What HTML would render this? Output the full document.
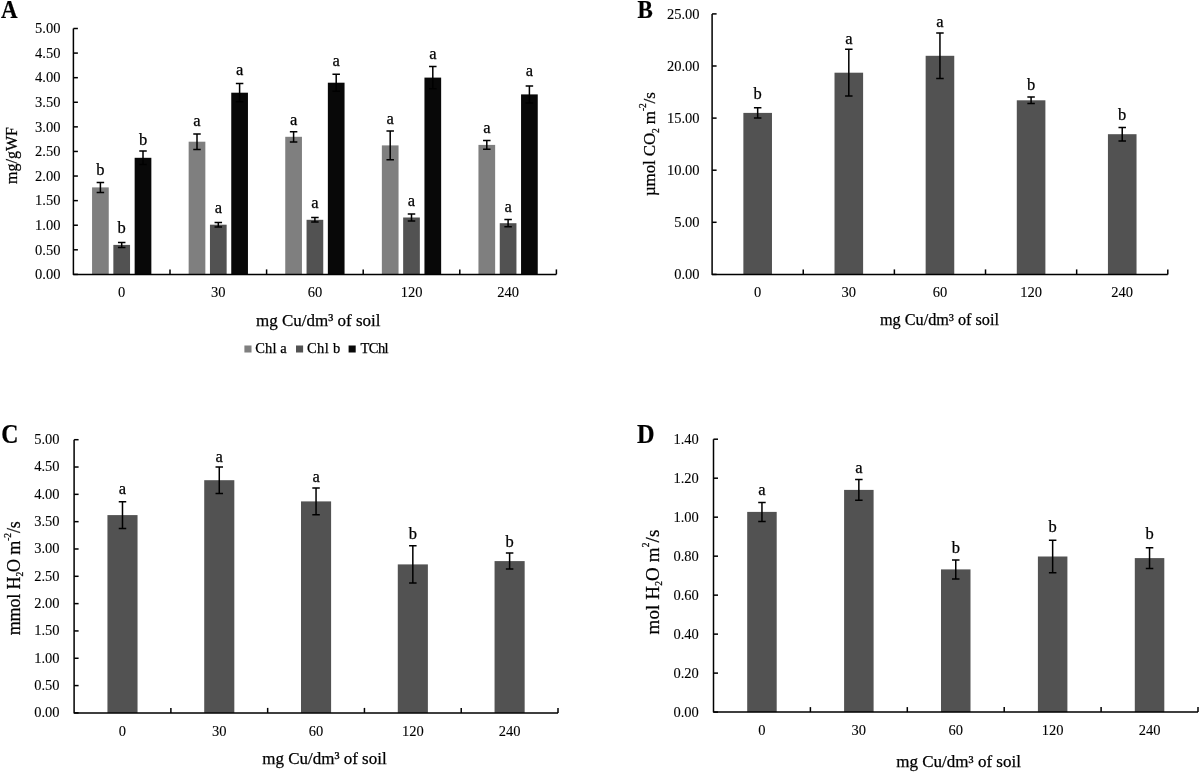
<!DOCTYPE html><html><head><meta charset="utf-8"><style>html,body{margin:0;padding:0;background:#fff;width:1200px;height:772px;overflow:hidden}svg{display:block;will-change:transform}text{font-family:"Liberation Serif",serif;fill:#000;stroke:#000;stroke-width:0.25px}.tk{stroke-width:0.1px}</style></head><body>
<svg width="1200" height="772" viewBox="0 0 1200 772">
<rect x="92.05" y="187.40" width="16.70" height="87.00" fill="#7f7f7f"/>
<rect x="188.65" y="141.70" width="16.70" height="132.70" fill="#7f7f7f"/>
<rect x="285.25" y="136.80" width="16.70" height="137.60" fill="#7f7f7f"/>
<rect x="381.85" y="145.40" width="16.70" height="129.00" fill="#7f7f7f"/>
<rect x="478.45" y="144.90" width="16.70" height="129.50" fill="#7f7f7f"/>
<rect x="113.35" y="244.90" width="16.70" height="29.50" fill="#525252"/>
<rect x="209.95" y="224.70" width="16.70" height="49.70" fill="#525252"/>
<rect x="306.55" y="219.80" width="16.70" height="54.60" fill="#525252"/>
<rect x="403.15" y="217.50" width="16.70" height="56.90" fill="#525252"/>
<rect x="499.75" y="223.20" width="16.70" height="51.20" fill="#525252"/>
<rect x="134.65" y="157.80" width="16.70" height="116.60" fill="#080808"/>
<rect x="231.25" y="92.70" width="16.70" height="181.70" fill="#080808"/>
<rect x="327.85" y="82.70" width="16.70" height="191.70" fill="#080808"/>
<rect x="424.45" y="77.60" width="16.70" height="196.80" fill="#080808"/>
<rect x="521.05" y="94.40" width="16.70" height="180.00" fill="#080808"/>
<path d="M100.40 182.40V192.40M96.65 182.40H104.15M96.65 192.40H104.15" stroke="#000" stroke-width="1.5" fill="none"/>
<text x="100.40" y="175.10" font-size="16.5" text-anchor="middle">b</text>
<path d="M197.00 133.90V149.50M193.25 133.90H200.75M193.25 149.50H200.75" stroke="#000" stroke-width="1.5" fill="none"/>
<text x="197.00" y="125.50" font-size="16.5" text-anchor="middle">a</text>
<path d="M293.60 131.70V141.90M289.85 131.70H297.35M289.85 141.90H297.35" stroke="#000" stroke-width="1.5" fill="none"/>
<text x="293.60" y="124.70" font-size="16.5" text-anchor="middle">a</text>
<path d="M390.20 131.00V159.80M386.45 131.00H393.95M386.45 159.80H393.95" stroke="#000" stroke-width="1.5" fill="none"/>
<text x="390.20" y="124.20" font-size="16.5" text-anchor="middle">a</text>
<path d="M486.80 140.50V149.30M483.05 140.50H490.55M483.05 149.30H490.55" stroke="#000" stroke-width="1.5" fill="none"/>
<text x="486.80" y="133.30" font-size="16.5" text-anchor="middle">a</text>
<path d="M121.70 242.40V247.40M117.95 242.40H125.45M117.95 247.40H125.45" stroke="#000" stroke-width="1.5" fill="none"/>
<text x="121.70" y="233.10" font-size="16.5" text-anchor="middle">b</text>
<path d="M218.30 222.50V226.90M214.55 222.50H222.05M214.55 226.90H222.05" stroke="#000" stroke-width="1.5" fill="none"/>
<text x="218.30" y="213.00" font-size="16.5" text-anchor="middle">a</text>
<path d="M314.90 217.60V222.00M311.15 217.60H318.65M311.15 222.00H318.65" stroke="#000" stroke-width="1.5" fill="none"/>
<text x="314.90" y="207.90" font-size="16.5" text-anchor="middle">a</text>
<path d="M411.50 214.00V221.00M407.75 214.00H415.25M407.75 221.00H415.25" stroke="#000" stroke-width="1.5" fill="none"/>
<text x="411.50" y="206.30" font-size="16.5" text-anchor="middle">a</text>
<path d="M508.10 219.60V226.80M504.35 219.60H511.85M504.35 226.80H511.85" stroke="#000" stroke-width="1.5" fill="none"/>
<text x="508.10" y="211.50" font-size="16.5" text-anchor="middle">a</text>
<path d="M143.00 151.00V164.60M139.25 151.00H146.75M139.25 164.60H146.75" stroke="#000" stroke-width="1.5" fill="none"/>
<text x="143.00" y="145.40" font-size="16.5" text-anchor="middle">b</text>
<path d="M239.60 83.60V101.80M235.85 83.60H243.35M235.85 101.80H243.35" stroke="#000" stroke-width="1.5" fill="none"/>
<text x="239.60" y="74.50" font-size="16.5" text-anchor="middle">a</text>
<path d="M336.20 74.20V91.20M332.45 74.20H339.95M332.45 91.20H339.95" stroke="#000" stroke-width="1.5" fill="none"/>
<text x="336.20" y="66.40" font-size="16.5" text-anchor="middle">a</text>
<path d="M432.80 66.40V88.80M429.05 66.40H436.55M429.05 88.80H436.55" stroke="#000" stroke-width="1.5" fill="none"/>
<text x="432.80" y="59.40" font-size="16.5" text-anchor="middle">a</text>
<path d="M529.40 85.90V102.90M525.65 85.90H533.15M525.65 102.90H533.15" stroke="#000" stroke-width="1.5" fill="none"/>
<text x="529.40" y="76.30" font-size="16.5" text-anchor="middle">a</text>
<path d="M73.40 28.50V274.40H556.40" stroke="#000" stroke-width="1.5" fill="none" stroke-linejoin="round"/>
<path d="M73.40 274.40H77.90" stroke="#000" stroke-width="1.5"/>
<text x="60.40" y="279.20" font-size="14.5" text-anchor="end" class="tk">0.00</text>
<path d="M73.40 249.81H77.90" stroke="#000" stroke-width="1.5"/>
<text x="60.40" y="254.61" font-size="14.5" text-anchor="end" class="tk">0.50</text>
<path d="M73.40 225.22H77.90" stroke="#000" stroke-width="1.5"/>
<text x="60.40" y="230.02" font-size="14.5" text-anchor="end" class="tk">1.00</text>
<path d="M73.40 200.63H77.90" stroke="#000" stroke-width="1.5"/>
<text x="60.40" y="205.43" font-size="14.5" text-anchor="end" class="tk">1.50</text>
<path d="M73.40 176.04H77.90" stroke="#000" stroke-width="1.5"/>
<text x="60.40" y="180.84" font-size="14.5" text-anchor="end" class="tk">2.00</text>
<path d="M73.40 151.45H77.90" stroke="#000" stroke-width="1.5"/>
<text x="60.40" y="156.25" font-size="14.5" text-anchor="end" class="tk">2.50</text>
<path d="M73.40 126.86H77.90" stroke="#000" stroke-width="1.5"/>
<text x="60.40" y="131.66" font-size="14.5" text-anchor="end" class="tk">3.00</text>
<path d="M73.40 102.27H77.90" stroke="#000" stroke-width="1.5"/>
<text x="60.40" y="107.07" font-size="14.5" text-anchor="end" class="tk">3.50</text>
<path d="M73.40 77.68H77.90" stroke="#000" stroke-width="1.5"/>
<text x="60.40" y="82.48" font-size="14.5" text-anchor="end" class="tk">4.00</text>
<path d="M73.40 53.09H77.90" stroke="#000" stroke-width="1.5"/>
<text x="60.40" y="57.89" font-size="14.5" text-anchor="end" class="tk">4.50</text>
<path d="M73.40 28.50H77.90" stroke="#000" stroke-width="1.5"/>
<text x="60.40" y="33.30" font-size="14.5" text-anchor="end" class="tk">5.00</text>
<path d="M170.00 274.40V269.40" stroke="#000" stroke-width="1.5"/>
<path d="M266.60 274.40V269.40" stroke="#000" stroke-width="1.5"/>
<path d="M363.20 274.40V269.40" stroke="#000" stroke-width="1.5"/>
<path d="M459.80 274.40V269.40" stroke="#000" stroke-width="1.5"/>
<path d="M556.40 274.40V269.40" stroke="#000" stroke-width="1.5"/>
<text x="121.70" y="297.20" font-size="14.5" text-anchor="middle" class="tk">0</text>
<text x="218.30" y="297.20" font-size="14.5" text-anchor="middle" class="tk">30</text>
<text x="314.90" y="297.20" font-size="14.5" text-anchor="middle" class="tk">60</text>
<text x="411.50" y="297.20" font-size="14.5" text-anchor="middle" class="tk">120</text>
<text x="508.10" y="297.20" font-size="14.5" text-anchor="middle" class="tk">240</text>
<rect x="743.37" y="112.90" width="28.60" height="161.50" fill="#525252"/>
<rect x="834.51" y="72.70" width="28.60" height="201.70" fill="#525252"/>
<rect x="925.65" y="55.80" width="28.60" height="218.60" fill="#525252"/>
<rect x="1016.79" y="100.30" width="28.60" height="174.10" fill="#525252"/>
<rect x="1107.93" y="134.20" width="28.60" height="140.20" fill="#525252"/>
<path d="M757.67 107.80V118.00M753.92 107.80H761.42M753.92 118.00H761.42" stroke="#000" stroke-width="1.5" fill="none"/>
<text x="757.67" y="99.00" font-size="16.5" text-anchor="middle">b</text>
<path d="M848.81 49.30V96.10M845.06 49.30H852.56M845.06 96.10H852.56" stroke="#000" stroke-width="1.5" fill="none"/>
<text x="848.81" y="44.20" font-size="16.5" text-anchor="middle">a</text>
<path d="M939.95 33.00V78.60M936.20 33.00H943.70M936.20 78.60H943.70" stroke="#000" stroke-width="1.5" fill="none"/>
<text x="939.95" y="26.50" font-size="16.5" text-anchor="middle">a</text>
<path d="M1031.09 97.10V103.50M1027.34 97.10H1034.84M1027.34 103.50H1034.84" stroke="#000" stroke-width="1.5" fill="none"/>
<text x="1031.09" y="90.00" font-size="16.5" text-anchor="middle">b</text>
<path d="M1122.23 127.50V140.90M1118.48 127.50H1125.98M1118.48 140.90H1125.98" stroke="#000" stroke-width="1.5" fill="none"/>
<text x="1122.23" y="120.30" font-size="16.5" text-anchor="middle">b</text>
<path d="M712.10 13.90V274.40H1167.80" stroke="#000" stroke-width="1.5" fill="none" stroke-linejoin="round"/>
<path d="M712.10 274.40H716.60" stroke="#000" stroke-width="1.5"/>
<text x="699.60" y="279.00" font-size="14.5" text-anchor="end" class="tk">0.00</text>
<path d="M712.10 222.30H716.60" stroke="#000" stroke-width="1.5"/>
<text x="699.60" y="226.90" font-size="14.5" text-anchor="end" class="tk">5.00</text>
<path d="M712.10 170.20H716.60" stroke="#000" stroke-width="1.5"/>
<text x="699.60" y="174.80" font-size="14.5" text-anchor="end" class="tk">10.00</text>
<path d="M712.10 118.10H716.60" stroke="#000" stroke-width="1.5"/>
<text x="699.60" y="122.70" font-size="14.5" text-anchor="end" class="tk">15.00</text>
<path d="M712.10 66.00H716.60" stroke="#000" stroke-width="1.5"/>
<text x="699.60" y="70.60" font-size="14.5" text-anchor="end" class="tk">20.00</text>
<path d="M712.10 13.90H716.60" stroke="#000" stroke-width="1.5"/>
<text x="699.60" y="18.50" font-size="14.5" text-anchor="end" class="tk">25.00</text>
<path d="M803.24 274.40V269.40" stroke="#000" stroke-width="1.5"/>
<path d="M894.38 274.40V269.40" stroke="#000" stroke-width="1.5"/>
<path d="M985.52 274.40V269.40" stroke="#000" stroke-width="1.5"/>
<path d="M1076.66 274.40V269.40" stroke="#000" stroke-width="1.5"/>
<path d="M1167.80 274.40V269.40" stroke="#000" stroke-width="1.5"/>
<text x="757.67" y="297.00" font-size="14.5" text-anchor="middle" class="tk">0</text>
<text x="848.81" y="297.00" font-size="14.5" text-anchor="middle" class="tk">30</text>
<text x="939.95" y="297.00" font-size="14.5" text-anchor="middle" class="tk">60</text>
<text x="1031.09" y="297.00" font-size="14.5" text-anchor="middle" class="tk">120</text>
<text x="1122.23" y="297.00" font-size="14.5" text-anchor="middle" class="tk">240</text>
<rect x="107.44" y="515.10" width="30.10" height="197.80" fill="#525252"/>
<rect x="204.22" y="480.20" width="30.10" height="232.70" fill="#525252"/>
<rect x="301.00" y="501.40" width="30.10" height="211.50" fill="#525252"/>
<rect x="397.78" y="564.40" width="30.10" height="148.50" fill="#525252"/>
<rect x="494.56" y="561.10" width="30.10" height="151.80" fill="#525252"/>
<path d="M122.49 501.70V528.50M118.74 501.70H126.24M118.74 528.50H126.24" stroke="#000" stroke-width="1.5" fill="none"/>
<text x="122.49" y="493.80" font-size="16.5" text-anchor="middle">a</text>
<path d="M219.27 467.00V493.40M215.52 467.00H223.02M215.52 493.40H223.02" stroke="#000" stroke-width="1.5" fill="none"/>
<text x="219.27" y="462.00" font-size="16.5" text-anchor="middle">a</text>
<path d="M316.05 488.00V514.80M312.30 488.00H319.80M312.30 514.80H319.80" stroke="#000" stroke-width="1.5" fill="none"/>
<text x="316.05" y="482.00" font-size="16.5" text-anchor="middle">a</text>
<path d="M412.83 545.80V583.00M409.08 545.80H416.58M409.08 583.00H416.58" stroke="#000" stroke-width="1.5" fill="none"/>
<text x="412.83" y="539.20" font-size="16.5" text-anchor="middle">b</text>
<path d="M509.61 553.10V569.10M505.86 553.10H513.36M505.86 569.10H513.36" stroke="#000" stroke-width="1.5" fill="none"/>
<text x="509.61" y="546.90" font-size="16.5" text-anchor="middle">b</text>
<path d="M74.10 439.70V712.90H558.00" stroke="#000" stroke-width="1.5" fill="none" stroke-linejoin="round"/>
<path d="M74.10 712.90H78.60" stroke="#000" stroke-width="1.5"/>
<text x="59.60" y="717.30" font-size="14.5" text-anchor="end" class="tk">0.00</text>
<path d="M74.10 685.58H78.60" stroke="#000" stroke-width="1.5"/>
<text x="59.60" y="689.98" font-size="14.5" text-anchor="end" class="tk">0.50</text>
<path d="M74.10 658.26H78.60" stroke="#000" stroke-width="1.5"/>
<text x="59.60" y="662.66" font-size="14.5" text-anchor="end" class="tk">1.00</text>
<path d="M74.10 630.94H78.60" stroke="#000" stroke-width="1.5"/>
<text x="59.60" y="635.34" font-size="14.5" text-anchor="end" class="tk">1.50</text>
<path d="M74.10 603.62H78.60" stroke="#000" stroke-width="1.5"/>
<text x="59.60" y="608.02" font-size="14.5" text-anchor="end" class="tk">2.00</text>
<path d="M74.10 576.30H78.60" stroke="#000" stroke-width="1.5"/>
<text x="59.60" y="580.70" font-size="14.5" text-anchor="end" class="tk">2.50</text>
<path d="M74.10 548.98H78.60" stroke="#000" stroke-width="1.5"/>
<text x="59.60" y="553.38" font-size="14.5" text-anchor="end" class="tk">3.00</text>
<path d="M74.10 521.66H78.60" stroke="#000" stroke-width="1.5"/>
<text x="59.60" y="526.06" font-size="14.5" text-anchor="end" class="tk">3.50</text>
<path d="M74.10 494.34H78.60" stroke="#000" stroke-width="1.5"/>
<text x="59.60" y="498.74" font-size="14.5" text-anchor="end" class="tk">4.00</text>
<path d="M74.10 467.02H78.60" stroke="#000" stroke-width="1.5"/>
<text x="59.60" y="471.42" font-size="14.5" text-anchor="end" class="tk">4.50</text>
<path d="M74.10 439.70H78.60" stroke="#000" stroke-width="1.5"/>
<text x="59.60" y="444.10" font-size="14.5" text-anchor="end" class="tk">5.00</text>
<path d="M170.88 712.90V707.90" stroke="#000" stroke-width="1.5"/>
<path d="M267.66 712.90V707.90" stroke="#000" stroke-width="1.5"/>
<path d="M364.44 712.90V707.90" stroke="#000" stroke-width="1.5"/>
<path d="M461.22 712.90V707.90" stroke="#000" stroke-width="1.5"/>
<path d="M558.00 712.90V707.90" stroke="#000" stroke-width="1.5"/>
<text x="122.49" y="735.80" font-size="14.5" text-anchor="middle" class="tk">0</text>
<text x="219.27" y="735.80" font-size="14.5" text-anchor="middle" class="tk">30</text>
<text x="316.05" y="735.80" font-size="14.5" text-anchor="middle" class="tk">60</text>
<text x="412.83" y="735.80" font-size="14.5" text-anchor="middle" class="tk">120</text>
<text x="509.61" y="735.80" font-size="14.5" text-anchor="middle" class="tk">240</text>
<rect x="747.20" y="511.90" width="29.50" height="200.20" fill="#525252"/>
<rect x="844.10" y="489.90" width="29.50" height="222.20" fill="#525252"/>
<rect x="941.00" y="569.40" width="29.50" height="142.70" fill="#525252"/>
<rect x="1037.90" y="556.50" width="29.50" height="155.60" fill="#525252"/>
<rect x="1134.80" y="558.10" width="29.50" height="154.00" fill="#525252"/>
<path d="M761.95 502.40V521.40M758.20 502.40H765.70M758.20 521.40H765.70" stroke="#000" stroke-width="1.5" fill="none"/>
<text x="761.95" y="495.20" font-size="16.5" text-anchor="middle">a</text>
<path d="M858.85 479.50V500.30M855.10 479.50H862.60M855.10 500.30H862.60" stroke="#000" stroke-width="1.5" fill="none"/>
<text x="858.85" y="472.50" font-size="16.5" text-anchor="middle">a</text>
<path d="M955.75 559.90V578.90M952.00 559.90H959.50M952.00 578.90H959.50" stroke="#000" stroke-width="1.5" fill="none"/>
<text x="955.75" y="553.30" font-size="16.5" text-anchor="middle">b</text>
<path d="M1052.65 540.30V572.70M1048.90 540.30H1056.40M1048.90 572.70H1056.40" stroke="#000" stroke-width="1.5" fill="none"/>
<text x="1052.65" y="532.10" font-size="16.5" text-anchor="middle">b</text>
<path d="M1149.55 547.80V568.40M1145.80 547.80H1153.30M1145.80 568.40H1153.30" stroke="#000" stroke-width="1.5" fill="none"/>
<text x="1149.55" y="538.75" font-size="16.5" text-anchor="middle">b</text>
<path d="M713.50 439.20V712.10H1198.00" stroke="#000" stroke-width="1.5" fill="none" stroke-linejoin="round"/>
<path d="M713.50 712.10H718.00" stroke="#000" stroke-width="1.5"/>
<text x="698.80" y="716.90" font-size="14.5" text-anchor="end" class="tk">0.00</text>
<path d="M713.50 673.11H718.00" stroke="#000" stroke-width="1.5"/>
<text x="698.80" y="677.91" font-size="14.5" text-anchor="end" class="tk">0.20</text>
<path d="M713.50 634.13H718.00" stroke="#000" stroke-width="1.5"/>
<text x="698.80" y="638.93" font-size="14.5" text-anchor="end" class="tk">0.40</text>
<path d="M713.50 595.14H718.00" stroke="#000" stroke-width="1.5"/>
<text x="698.80" y="599.94" font-size="14.5" text-anchor="end" class="tk">0.60</text>
<path d="M713.50 556.16H718.00" stroke="#000" stroke-width="1.5"/>
<text x="698.80" y="560.96" font-size="14.5" text-anchor="end" class="tk">0.80</text>
<path d="M713.50 517.17H718.00" stroke="#000" stroke-width="1.5"/>
<text x="698.80" y="521.97" font-size="14.5" text-anchor="end" class="tk">1.00</text>
<path d="M713.50 478.19H718.00" stroke="#000" stroke-width="1.5"/>
<text x="698.80" y="482.99" font-size="14.5" text-anchor="end" class="tk">1.20</text>
<path d="M713.50 439.20H718.00" stroke="#000" stroke-width="1.5"/>
<text x="698.80" y="444.00" font-size="14.5" text-anchor="end" class="tk">1.40</text>
<path d="M810.40 712.10V707.10" stroke="#000" stroke-width="1.5"/>
<path d="M907.30 712.10V707.10" stroke="#000" stroke-width="1.5"/>
<path d="M1004.20 712.10V707.10" stroke="#000" stroke-width="1.5"/>
<path d="M1101.10 712.10V707.10" stroke="#000" stroke-width="1.5"/>
<path d="M1198.00 712.10V707.10" stroke="#000" stroke-width="1.5"/>
<text x="761.95" y="735.20" font-size="14.5" text-anchor="middle" class="tk">0</text>
<text x="858.85" y="735.20" font-size="14.5" text-anchor="middle" class="tk">30</text>
<text x="955.75" y="735.20" font-size="14.5" text-anchor="middle" class="tk">60</text>
<text x="1052.65" y="735.20" font-size="14.5" text-anchor="middle" class="tk">120</text>
<text x="1149.55" y="735.20" font-size="14.5" text-anchor="middle" class="tk">240</text>
<text transform="translate(1.00,17.80) scale(0.9,1)" font-size="25.5" font-weight="bold">A</text>
<text transform="translate(637.60,17.80) scale(0.9,1)" font-size="25.5" font-weight="bold">B</text>
<text transform="translate(1.20,442.60) scale(0.88,1)" font-size="27" font-weight="bold">C</text>
<text transform="translate(637.00,442.70) scale(0.9,1)" font-size="27" font-weight="bold">D</text>
<text x="256.00" y="326.00" font-size="17" textLength="124.50" lengthAdjust="spacingAndGlyphs">mg Cu/dm³ of soil</text>
<text x="880.00" y="324.70" font-size="16.2" textLength="118.90" lengthAdjust="spacingAndGlyphs">mg Cu/dm³ of soil</text>
<text x="262.30" y="763.80" font-size="17" textLength="124.30" lengthAdjust="spacingAndGlyphs">mg Cu/dm³ of soil</text>
<text x="896.30" y="766.50" font-size="16.5" textLength="124.60" lengthAdjust="spacingAndGlyphs">mg Cu/dm³ of soil</text>
<text transform="translate(17.10,155.45) rotate(-90)" text-anchor="middle" font-size="16">mg/gWF</text>
<text transform="translate(655.00,144.15) rotate(-90)" text-anchor="middle" font-size="17" textLength="103.9" lengthAdjust="spacing">µmol CO<tspan font-size="9.5" dy="3.6">2</tspan><tspan dy="-3.6"> m</tspan><tspan font-size="9.5" dy="-9.0">-2</tspan><tspan dy="9.0">/s</tspan></text>
<text transform="translate(19.50,578.25) rotate(-90)" text-anchor="middle" font-size="18" textLength="114.1" lengthAdjust="spacing">mmol H<tspan font-size="9.5" dy="3.6">2</tspan><tspan dy="-3.6">O m</tspan><tspan font-size="9.5" dy="-8.8">-2</tspan><tspan dy="8.8">/s</tspan></text>
<text transform="translate(658.80,582.05) rotate(-90)" text-anchor="middle" font-size="19" textLength="104.9" lengthAdjust="spacing">mol H<tspan font-size="9.5" dy="3.6">2</tspan><tspan dy="-3.6">O m</tspan><tspan font-size="9.5" dy="-10.0">2</tspan><tspan dy="10.0">/s</tspan></text>
<rect x="244.40" y="345.5" width="7.1" height="7" fill="#7f7f7f"/>
<text x="255.20" y="353.40" font-size="14.5" textLength="31.6" lengthAdjust="spacing">Chl a</text>
<rect x="296.00" y="345.5" width="7.1" height="7" fill="#525252"/>
<text x="307.00" y="353.40" font-size="14.5" textLength="33.3" lengthAdjust="spacing">Chl b</text>
<rect x="348.60" y="345.5" width="7.1" height="7" fill="#080808"/>
<text x="360.60" y="353.40" font-size="14.5" textLength="28.0" lengthAdjust="spacing">TChl</text>
</svg></body></html>
